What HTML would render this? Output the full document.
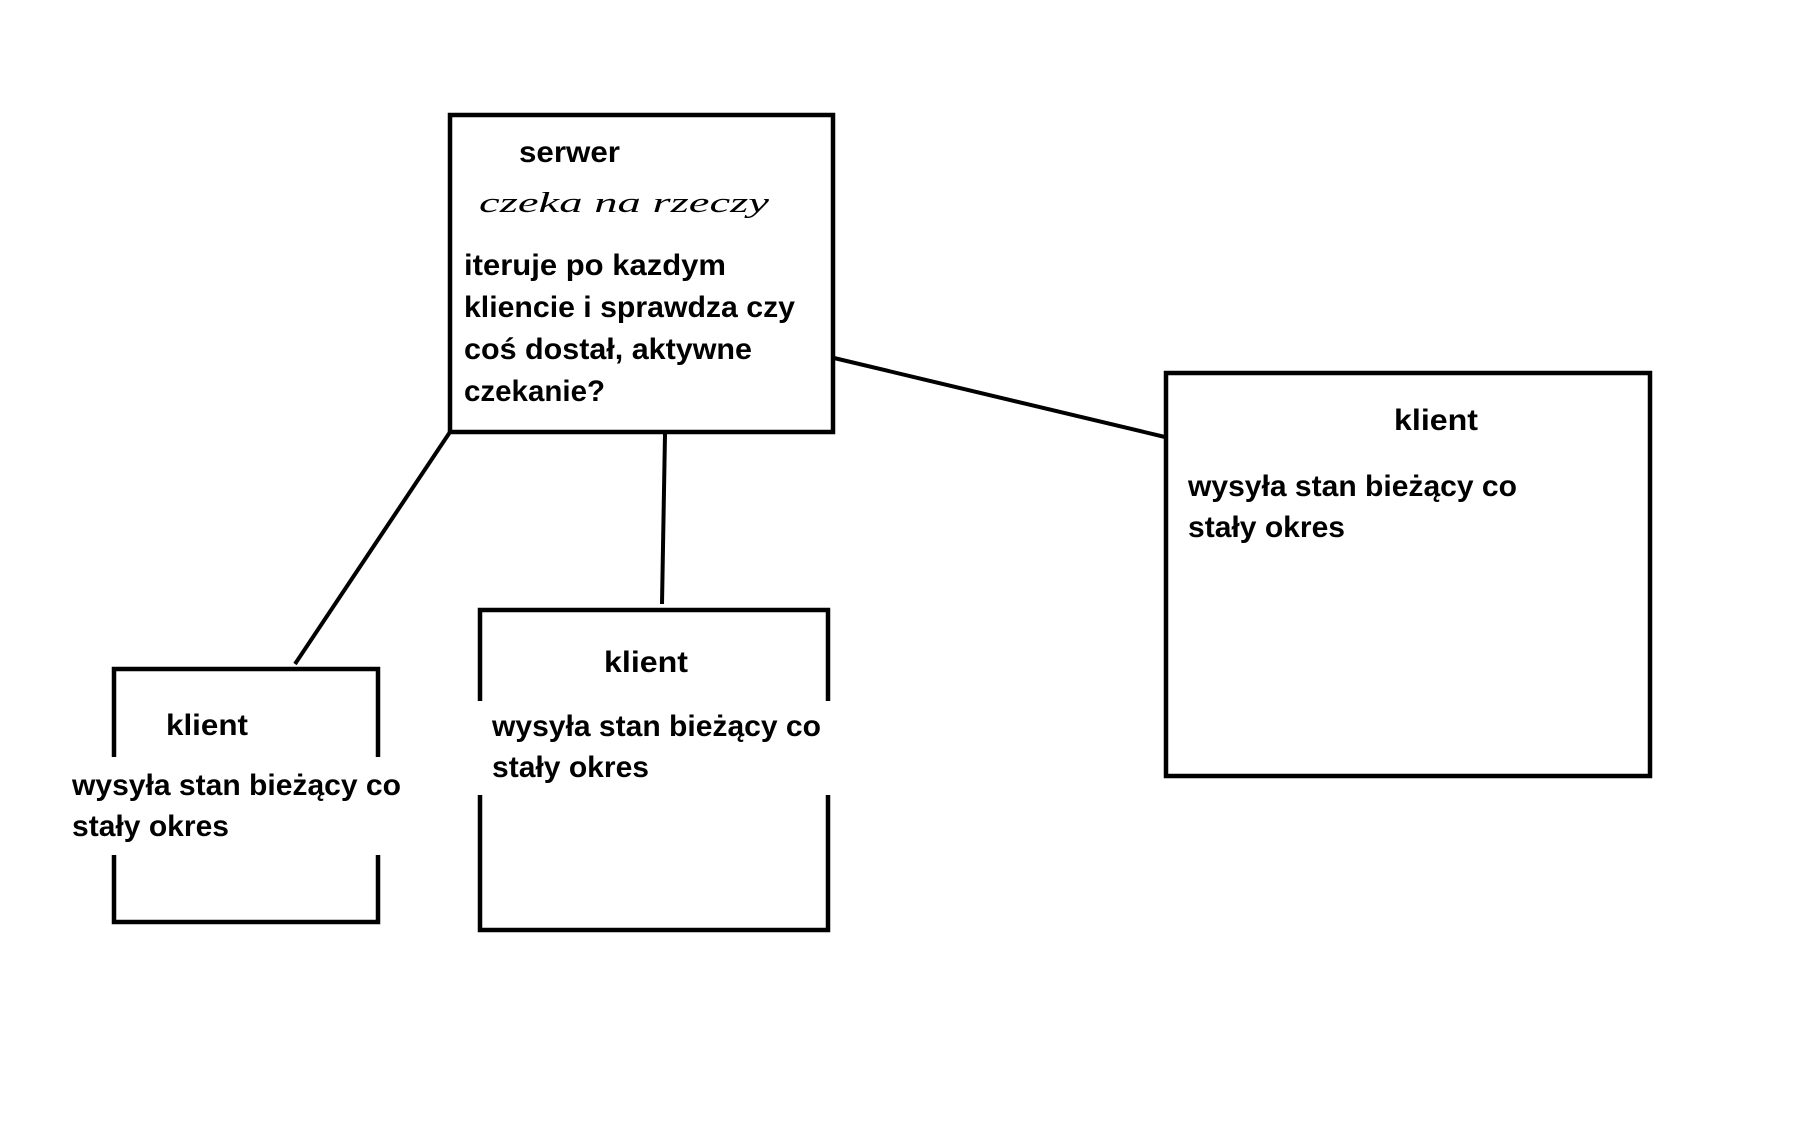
<!DOCTYPE html>
<html><head><meta charset="utf-8"><style>
html,body{margin:0;padding:0;background:#fff}
svg{display:block}
text{font-family:"Liberation Sans",sans-serif;font-weight:bold;font-size:30px;fill:#000}
</style></head><body>
<svg width="1808" height="1144" viewBox="0 0 1808 1144">
<g stroke="#000" stroke-width="4" fill="none">
<line x1="450" y1="432" x2="295" y2="664"/>
<line x1="665" y1="434" x2="662" y2="604"/>
<line x1="834" y1="358" x2="1165" y2="437"/>
</g>
<g stroke="#000" stroke-width="4.5" fill="#fff">
<rect x="450" y="115" width="383" height="317"/>
<rect x="114" y="669" width="264" height="253"/>
<rect x="480" y="610" width="348" height="320"/>
<rect x="1166" y="373" width="484" height="403"/>
</g>
<rect x="108" y="757" width="280" height="98" fill="#fff"/>
<rect x="474" y="701" width="362" height="94" fill="#fff"/>

<text x="519" y="162" textLength="101" lengthAdjust="spacingAndGlyphs">serwer</text>
<text x="479" y="212" textLength="290" lengthAdjust="spacingAndGlyphs" style="font-weight:normal;font-style:italic;font-size:28px;font-family:'Liberation Serif',serif">czeka na rzeczy</text>
<text x="464" y="275" textLength="262" lengthAdjust="spacingAndGlyphs">iteruje po kazdym</text>
<text x="464" y="317" textLength="331" lengthAdjust="spacingAndGlyphs">kliencie i sprawdza czy</text>
<text x="464" y="359" textLength="288" lengthAdjust="spacingAndGlyphs">coś dostał, aktywne</text>
<text x="464" y="401" textLength="141" lengthAdjust="spacingAndGlyphs">czekanie?</text>

<text x="166" y="735" textLength="82" lengthAdjust="spacingAndGlyphs">klient</text>
<text x="72" y="795" textLength="329" lengthAdjust="spacingAndGlyphs">wysyła stan bieżący co</text>
<text x="72" y="836" textLength="157" lengthAdjust="spacingAndGlyphs">stały okres</text>

<text x="604" y="672" textLength="84" lengthAdjust="spacingAndGlyphs">klient</text>
<text x="492" y="736" textLength="329" lengthAdjust="spacingAndGlyphs">wysyła stan bieżący co</text>
<text x="492" y="777" textLength="157" lengthAdjust="spacingAndGlyphs">stały okres</text>

<text x="1394" y="430" textLength="84" lengthAdjust="spacingAndGlyphs">klient</text>
<text x="1188" y="496" textLength="329" lengthAdjust="spacingAndGlyphs">wysyła stan bieżący co</text>
<text x="1188" y="537" textLength="157" lengthAdjust="spacingAndGlyphs">stały okres</text>
</svg>
</body></html>
